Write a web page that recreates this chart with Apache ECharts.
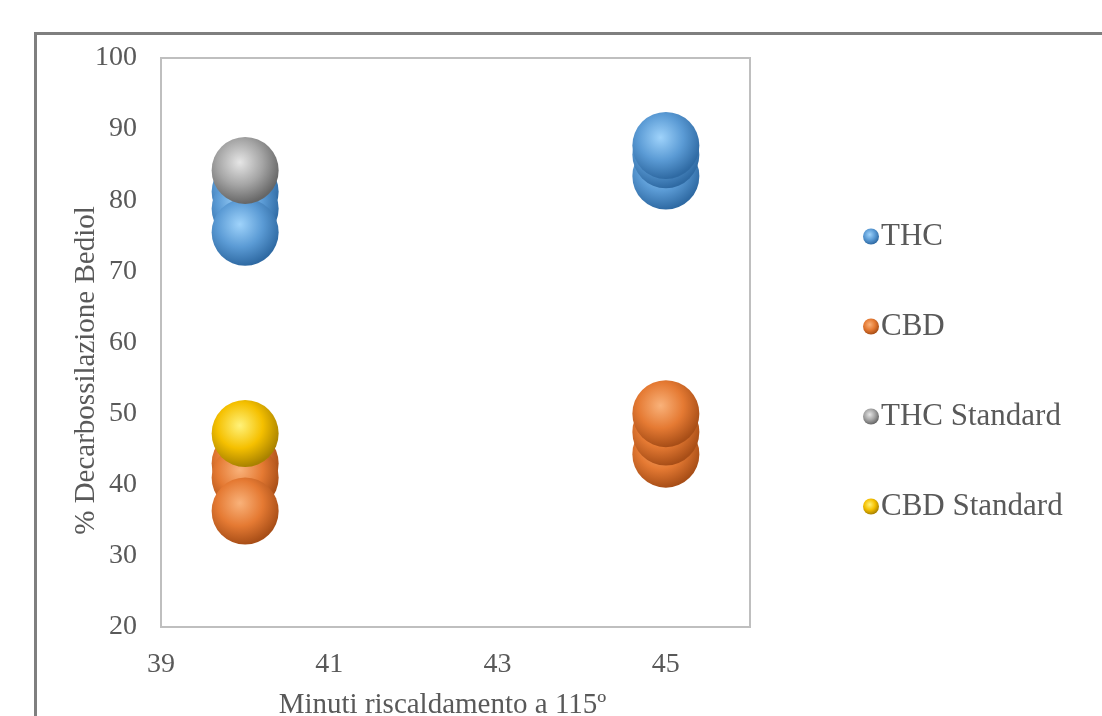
<!DOCTYPE html>
<html><head><meta charset="utf-8">
<script src="https://cdn.jsdelivr.net/npm/echarts@6/dist/echarts.min.js"></script>
<style>html,body{margin:0;padding:0;background:#fff}#c{width:1102px;height:716px}</style>
</head><body><div id="c"></div>
<script>
const seriesNames = ['THC', 'CBD', 'THC Standard', 'CBD Standard'];
const thcX = [40, 40, 40, 45, 45, 45];
const thcY = [81.2, 78.8, 75.5, 83.4, 86.4, 87.7];
const cbdX = [40, 40, 40, 45, 45, 45];
const cbdY = [43.0, 41.0, 36.3, 44.3, 47.4, 50.0];
const thcStdX = [40];
const thcStdY = [84.2];
const cbdStdX = [40];
const cbdStdY = [47.2];
const xTicks = [39, 41, 43, 45];
const yTicks = [20, 30, 40, 50, 60, 70, 80, 90, 100];

function sphere(hi, mid, dark) {
  return {type: 'radial', x: 0.42, y: 0.38, r: 0.62,
    colorStops: [{offset: 0, color: hi}, {offset: 0.55, color: mid}, {offset: 1, color: dark}]};
}
const fills = [
  sphere('#9fd3fb', '#5b9bd5', '#2f6aa3'),
  sphere('#f9b27a', '#e57a33', '#a84e17'),
  sphere('#e6e6e6', '#a5a5a5', '#666666'),
  sphere('#fff27a', '#f5c000', '#a98200')
];
const pts = (xs, ys) => xs.map((x, i) => [x, ys[i]]);
const data = [pts(thcX, thcY), pts(cbdX, cbdY), pts(thcStdX, thcStdY), pts(cbdStdX, cbdStdY)];

const chart = echarts.init(document.getElementById('c'));
const font = 'Liberation Serif';
chart.setOption({
  animation: false,
  grid: {left: 161, top: 58, width: 589, height: 569, outerBoundsMode: 'none', containLabel: false,
    show: true, borderColor: '#bfbfbf', borderWidth: 2, backgroundColor: '#fff'},
  graphic: [{type: 'rect', z: -1, shape: {x: 35.5, y: 33.5, width: 1200, height: 800}, style: {fill: '#fff', stroke: '#7f7f7f', lineWidth: 3}}],
  legend: {
    orient: 'vertical', left: 858, top: 216, itemGap: 59, itemWidth: 16, itemHeight: 16,
    icon: 'circle', data: seriesNames,
    textStyle: {fontFamily: font, fontSize: 31, color: '#595959', padding: [0, 0, 0, -3]}
  },
  xAxis: {
    type: 'value', min: 39, max: 46, interval: 2,
    axisLine: {show: false}, axisTick: {show: false}, splitLine: {show: false},
    axisLabel: {fontFamily: font, fontSize: 28, color: '#595959', margin: 24,
      formatter: v => xTicks.includes(v) ? String(v) : ''},
    name: 'Minuti riscaldamento a 115º', nameLocation: 'middle', nameGap: 64, nameMoveOverlap: false,
    nameTextStyle: {fontFamily: font, fontSize: 29, color: '#595959', padding: [0, 26, 0, 0]}
  },
  yAxis: {
    type: 'value', min: 20, max: 100, interval: 10,
    axisLine: {show: false}, axisTick: {show: false}, splitLine: {show: false},
    axisLabel: {fontFamily: font, fontSize: 28, color: '#595959', margin: 24,
      formatter: v => yTicks.includes(v) ? String(v) : ''},
    name: '% Decarbossilazione Bediol', nameLocation: 'middle', nameGap: 60, nameMoveOverlap: false,
    nameTextStyle: {fontFamily: font, fontSize: 29, color: '#595959', padding: [0, 0, 0, -56]}
  },
  series: seriesNames.map((n, i) => ({
    name: n, type: 'scatter', data: data[i], symbolSize: 67,
    itemStyle: {color: fills[i], opacity: 1}
  }))
});
</script></body></html>
